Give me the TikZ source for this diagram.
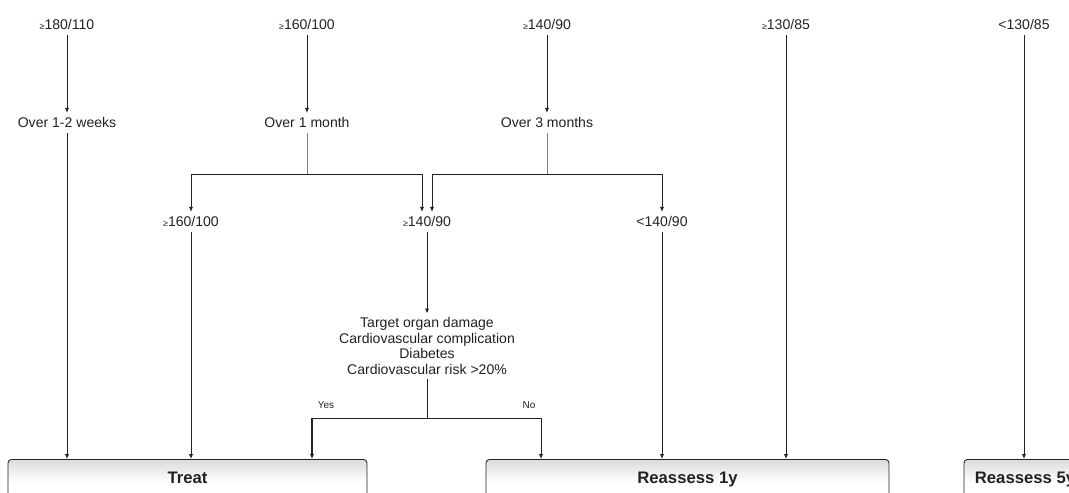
\documentclass[tikz,border=0pt]{standalone}
\usepackage{fontspec}
\setmainfont{Liberation Sans}
\usetikzlibrary{arrows.meta}
\definecolor{ink}{HTML}{222222}
\newcommand\sge{{\fontsize{5}{6}\selectfont ≥}}

\begin{document}
\begin{tikzpicture}[x=0.02cm, y=-0.02cm, color=ink, line width=0.5pt,
  >={Latex[length=2.8pt,width=2.4pt]},
  every node/.style={font=\fontsize{8}{8.9}\selectfont},
  lbl/.style={inner sep=2pt, text height=6pt, text depth=1pt},
  tiny/.style={font=\fontsize{5.7}{6}\selectfont, inner sep=0pt},
  box/.style={draw=ink, rounded corners=2pt, anchor=north, top color=gray!28, bottom color=white, middle color=white,
    font=\fontsize{9.5}{11}\selectfont\bfseries, text height=7pt, text depth=6pt, inner ysep=6.5pt}]
\path[use as bounding box] (0,0) rectangle (1069,493);
\clip (0,0) rectangle (1069,493);
\node[lbl] (a1) at (67,25) {\sge180/110};
\node[lbl] (a2) at (307,25) {\sge160/100};
\node[lbl] (a3) at (547,25) {\sge140/90};
\node[lbl] (a4) at (786,25) {\sge130/85};
\node[lbl] (a5) at (1024,25) {<130/85};
\node[lbl] (o1) at (67,123) {Over 1-2 weeks};
\node[lbl] (o2) at (307,123) {Over 1 month};
\node[lbl] (o3) at (547,123) {Over 3 months};
\node[lbl] (b1) at (191,222) {\sge160/100};
\node[lbl] (b2) at (427,222) {\sge140/90};
\node[lbl] (b3) at (662,222) {<140/90};
\node[align=center, inner sep=2pt] (risk) at (427,346) {Target organ damage\\Cardiovascular complication\\Diabetes\\Cardiovascular risk >20\%};
\node[box, minimum width=7.18cm] (treat) at (187.5,459) {Treat};
\node[box, minimum width=8.06cm] (r1) at (687.5,459) {Reassess 1y};
\node[box, minimum width=2.44cm] (r5) at (1025,459) {Reassess 5y};
\coordinate (f1) at (307,174);
\coordinate (f2) at (547,174);
\coordinate (yn) at (427,418);
\coordinate (yes) at (312,418);
\coordinate (no) at (541,418);
\node[tiny] (ylbl) at (326,405) {Yes};
\node[tiny] (nlbl) at (529,405) {No};
\draw[->] (a1) -- (o1);
\draw[->] (a2) -- (o2);
\draw[->] (a3) -- (o3);
\draw[->] (o1) -- (o1 |- treat.north);
\draw[gray] (o2) -- (f1);
\draw[->] (f1) -| (b1);
\draw[->] (f1) -| ([xshift=-0.1cm]b2.north);
\draw[gray] (o3) -- (f2);
\draw[->] (f2) -| ([xshift=0.1cm]b2.north);
\draw[->] (f2) -| (b3);
\draw[->] (b1) -- (b1 |- treat.north);
\draw[->] (b2) -- (risk);
\draw[->] (b3) -- (b3 |- r1.north);
\draw[->] (a4) -- (a4 |- r1.north);
\draw[->] (a5) -- (a5 |- r5.north);
\draw (risk) -- (yn);
\draw (yes) -- (no);
\draw[->, line width=1pt] (yes) -- (yes |- treat.north);
\draw[->] (no) -- (no |- r1.north);
\end{tikzpicture}
\end{document}
